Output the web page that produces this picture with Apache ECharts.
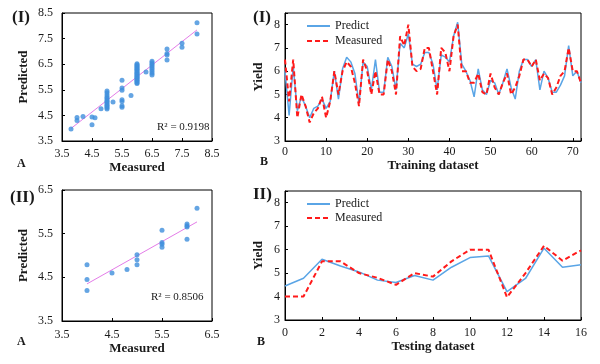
<!DOCTYPE html>
<html><head><meta charset="utf-8">
<script src="https://cdn.jsdelivr.net/npm/echarts@6/dist/echarts.min.js"></script>
<style>html,body{margin:0;padding:0;background:#fff}#c{width:600px;height:364px}</style>
</head><body><div id="c"></div>
<script>
// ---- Panel A (I): training scatter ----
const trainScatterMeasured = [3.8, 4.0, 4.0, 4.2, 4.5, 4.5, 4.6, 4.8,
  5.0, 5.0, 5.0, 5.0, 5.0, 5.0, 5.0, 5.0, 5.0, 5.0, 5.0, 5.0, 5.0,
  5.2, 5.5, 5.5, 5.5, 5.5, 5.5, 5.5, 5.5, 5.8,
  6.0, 6.0, 6.0, 6.0, 6.0, 6.0, 6.0, 6.0, 6.0, 6.0, 6.0, 6.0, 6.0, 6.0, 6.0, 6.0, 6.0, 6.0, 6.0, 6.0, 6.0,
  6.3, 6.5, 6.5, 6.5, 6.5, 6.5, 6.5, 6.5, 6.5, 6.5,
  7.0, 7.0, 7.0, 7.0, 7.5, 7.5, 8.0, 8.0];
const trainScatterPredicted = [3.97, 4.42, 4.3, 4.46, 4.44, 4.13, 4.41, 4.76,
  4.75, 4.8, 4.85, 4.9, 4.95, 5.0, 5.05, 5.1, 5.17, 5.22, 5.3, 5.38, 5.45,
  5.02, 5.87, 5.57, 5.48, 5.11, 5.04, 4.88, 4.82, 5.28,
  5.75, 5.78, 5.83, 5.86, 5.9, 5.95, 5.98, 6.02, 6.05, 6.1, 6.13, 6.17, 6.2, 6.25, 6.28, 6.32, 6.36, 6.4, 6.44, 6.48, 6.52,
  6.2, 6.08, 6.15, 6.22, 6.3, 6.37, 6.44, 6.5, 6.56, 6.62,
  7.09, 6.92, 6.86, 6.66, 7.32, 7.16, 8.12, 7.68];
const trainTrendX = [3.8, 8.0];
const trainTrendY = [3.99, 7.84];
const trainR2 = 'R\u00b2 = 0.9198';

// ---- Panel B (I): training dataset lines ----
const trainPredict = [6.0, 4.1, 6.2, 4.3, 4.9, 4.5, 4.0, 4.4, 4.5, 4.8,
  4.4, 4.7, 6.0, 4.8, 6.1, 6.6, 6.4, 5.9, 4.6, 6.4,
  6.2, 5.2, 6.5, 5.1, 5.1, 6.6, 6.2, 5.2, 7.2, 7.0,
  7.6, 6.3, 6.2, 6.3, 6.8, 6.8, 6.3, 5.2, 6.7, 6.6,
  6.4, 7.5, 8.1, 6.3, 6.0, 5.6, 4.9, 6.1, 5.2, 5.0,
  5.6, 5.5, 5.0, 5.5, 6.1, 5.3, 4.8, 6.0, 6.5, 6.5,
  6.2, 6.5, 5.2, 6.0, 5.7, 5.1, 5.1, 5.4, 5.8, 7.1,
  5.8, 6.0, 5.5];
const trainMeasured = [6.5, 4.7, 6.5, 4.0, 5.0, 4.5, 3.8, 4.2, 4.4, 4.9,
  4.0, 4.7, 6.0, 5.0, 6.0, 6.4, 6.2, 5.5, 4.5, 6.5,
  6.0, 5.0, 6.0, 5.0, 5.0, 6.5, 6.0, 5.0, 7.5, 7.1,
  8.0, 6.2, 6.0, 6.1, 7.0, 7.0, 6.0, 5.0, 7.0, 6.8,
  6.0, 7.5, 8.0, 6.0, 6.0, 5.5, 5.5, 5.9, 5.1, 5.0,
  5.9, 5.3, 5.0, 5.5, 5.9, 5.0, 5.3, 5.8, 6.5, 6.5,
  6.2, 6.5, 5.6, 5.9, 5.7, 5.0, 5.3, 5.8, 6.0, 7.0,
  6.0, 6.0, 5.5];

// ---- Panel A (II): testing scatter ----
const testScatterMeasured = [4.0, 4.0, 4.0, 4.5, 4.8, 5.0, 5.0, 5.0, 5.5, 5.5, 5.5, 5.5, 6.0, 6.0, 6.0, 6.0, 6.2];
const testScatterPredicted = [4.79, 4.45, 4.2, 4.6, 4.68, 5.02, 4.9, 4.79, 5.58, 5.3, 5.26, 5.19, 5.72, 5.65, 5.68, 5.37, 6.08];
const testTrendX = [4.0, 6.2];
const testTrendY = [4.35, 5.77];
const testR2 = 'R\u00b2 = 0.8506';

// ---- Panel B (II): testing dataset lines ----
const testPredict = [4.45, 4.78, 5.59, 5.3, 5.05, 4.7, 4.6, 4.9, 4.7, 5.25, 5.66, 5.73, 4.21, 4.77, 6.06, 5.25, 5.36];
const testMeasured = [4.0, 4.0, 5.5, 5.5, 5.0, 4.8, 4.5, 5.0, 4.85, 5.5, 6.0, 6.0, 3.97, 5.0, 6.16, 5.53, 5.97];

const seriesNames = ['Predict', 'Measured'];

const zip = (a, b) => a.map((v, i) => [v, b[i]]);
const idx = (a) => a.map((v, i) => [i, v]);

const FONT = '"Liberation Serif", "Times New Roman", serif';
const TXT = '#1a1a1a';
const BLUE_DOT = '#3e8fdc';
const BLUE_LINE = '#5aa5e6';
const RED = '#ff1a1a';
const TREND = '#e47ce8';

function axisCommon(extra) {
  return Object.assign({
    type: 'value',
    axisLine: { show: true, onZero: false, lineStyle: { color: '#000', width: 1 } },
    axisTick: { show: true, inside: true, length: 3, lineStyle: { color: '#000' } },
    splitLine: { show: false },
    axisLabel: { color: TXT, fontFamily: FONT, fontSize: 12 },
    nameLocation: 'middle',
    nameTextStyle: { color: TXT, fontFamily: FONT, fontSize: 13, fontWeight: 'bold' }
  }, extra);
}

const grids = [
  { left: 62, top: 13, width: 150, height: 128 },
  { left: 285, top: 13, width: 296, height: 128 },
  { left: 62, top: 190, width: 150, height: 131 },
  { left: 285, top: 191, width: 296, height: 129 }
].map(g => Object.assign({ show: true, borderColor: '#000', borderWidth: 1, backgroundColor: 'transparent' }, g));

const intOnly = v => (Math.abs(v - Math.round(v)) < 1e-6 ? String(Math.round(v)) : '');
const tens = v => (v % 10 === 0 ? String(v) : '');

const xAxes = [
  axisCommon({ gridIndex: 0, min: 3.5, max: 8.5, interval: 1, name: 'Measured', nameGap: 18,
    axisLabel: { color: TXT, fontFamily: FONT, fontSize: 12, margin: 7 } }),
  axisCommon({ gridIndex: 1, min: 0, max: 72, interval: 10, name: 'Training dataset', nameGap: 17,
    axisLabel: { color: TXT, fontFamily: FONT, fontSize: 12, margin: 5, formatter: tens } }),
  axisCommon({ gridIndex: 2, min: 3.5, max: 6.5, interval: 1, name: 'Measured', nameGap: 20,
    axisLabel: { color: TXT, fontFamily: FONT, fontSize: 12, margin: 8 } }),
  axisCommon({ gridIndex: 3, min: 0, max: 16, interval: 2, name: 'Testing dataset', nameGap: 17,
    axisLabel: { color: TXT, fontFamily: FONT, fontSize: 12, margin: 7 } })
];
const yAxes = [
  axisCommon({ gridIndex: 0, min: 3.5, max: 8.5, interval: 1, name: 'Predicted', nameGap: 32,
    axisLabel: { color: TXT, fontFamily: FONT, fontSize: 12, margin: 9 } }),
  axisCommon({ gridIndex: 1, min: 3, max: 8.5, interval: 1, name: 'Yield', nameGap: 20,
    axisLabel: { color: TXT, fontFamily: FONT, fontSize: 12, margin: 5, formatter: intOnly } }),
  axisCommon({ gridIndex: 2, min: 3.5, max: 6.5, interval: 1, name: 'Predicted', nameGap: 32,
    axisLabel: { color: TXT, fontFamily: FONT, fontSize: 12, margin: 9 } }),
  axisCommon({ gridIndex: 3, min: 3, max: 8.5, interval: 1, name: 'Yield', nameGap: 20,
    axisLabel: { color: TXT, fontFamily: FONT, fontSize: 12, margin: 5, formatter: intOnly } })
];

const predictLine = { color: BLUE_LINE, width: 1.5, type: 'solid' };
const measuredLine = { color: RED, width: 2, type: [5, 3] };

const series = [
  { type: 'scatter', name: 'trainScatter', xAxisIndex: 0, yAxisIndex: 0, symbolSize: 5,
    itemStyle: { color: BLUE_DOT }, data: zip(trainScatterMeasured, trainScatterPredicted), z: 3 },
  { type: 'line', name: 'trainTrend', xAxisIndex: 0, yAxisIndex: 0, symbol: 'none',
    lineStyle: { color: TREND, width: 1 }, data: zip(trainTrendX, trainTrendY), z: 2 },
  { type: 'line', name: seriesNames[0], xAxisIndex: 1, yAxisIndex: 1, symbol: 'none',
    itemStyle: { color: BLUE_LINE }, lineStyle: predictLine, data: idx(trainPredict), z: 2 },
  { type: 'line', name: seriesNames[1], xAxisIndex: 1, yAxisIndex: 1, symbol: 'none',
    itemStyle: { color: RED }, lineStyle: measuredLine, data: idx(trainMeasured), z: 3 },
  { type: 'scatter', name: 'testScatter', xAxisIndex: 2, yAxisIndex: 2, symbolSize: 5,
    itemStyle: { color: BLUE_DOT }, data: zip(testScatterMeasured, testScatterPredicted), z: 3 },
  { type: 'line', name: 'testTrend', xAxisIndex: 2, yAxisIndex: 2, symbol: 'none',
    lineStyle: { color: TREND, width: 1 }, data: zip(testTrendX, testTrendY), z: 2 },
  { type: 'line', name: seriesNames[0], xAxisIndex: 3, yAxisIndex: 3, symbol: 'none',
    itemStyle: { color: BLUE_LINE }, lineStyle: predictLine, data: idx(testPredict), z: 2 },
  { type: 'line', name: seriesNames[1], xAxisIndex: 3, yAxisIndex: 3, symbol: 'none',
    itemStyle: { color: RED }, lineStyle: measuredLine, data: idx(testMeasured), z: 3 }
];

const legendCommon = {
  data: seriesNames, orient: 'vertical', left: 306, padding: 0, itemWidth: 23, itemHeight: 10, itemGap: 3,
  selectedMode: false, itemStyle: { opacity: 0 },
  textStyle: { color: TXT, fontFamily: FONT, fontSize: 12 }
};

function txt(text, x, y, font, extra) {
  return { type: 'text', silent: true, style: Object.assign({ text, x, y, font, fill: TXT, verticalAlign: 'middle', align: 'left' }, extra || {}) };
}
const BIG = 'bold 17px ' + FONT;
const MID = 'bold 12px ' + FONT;
const SMALL = '11px ' + FONT;

const option = {
  animation: false,
  backgroundColor: '#fff',
  grid: grids,
  xAxis: xAxes,
  yAxis: yAxes,
  series,
  legend: [
    Object.assign({}, legendCommon, { top: 20 }),
    Object.assign({}, legendCommon, { top: 198, itemGap: 2 })
  ],
  graphic: [
    txt('(I)', 12, 18, BIG),
    txt('(I)', 253, 18, BIG),
    txt('(II)', 10, 198, BIG),
    txt('II)', 253, 195, BIG),
    txt('A', 17, 164, MID),
    txt('A', 17, 342, MID),
    txt('B', 260, 162, MID),
    txt('B', 257, 342, MID),
    txt(trainR2, 157, 127, SMALL),
    txt(testR2, 151, 297, SMALL)
  ]
};

const chart = echarts.init(document.getElementById('c'), null, { renderer: 'canvas', width: 600, height: 364 });
chart.setOption(option);
</script>
</body></html>
